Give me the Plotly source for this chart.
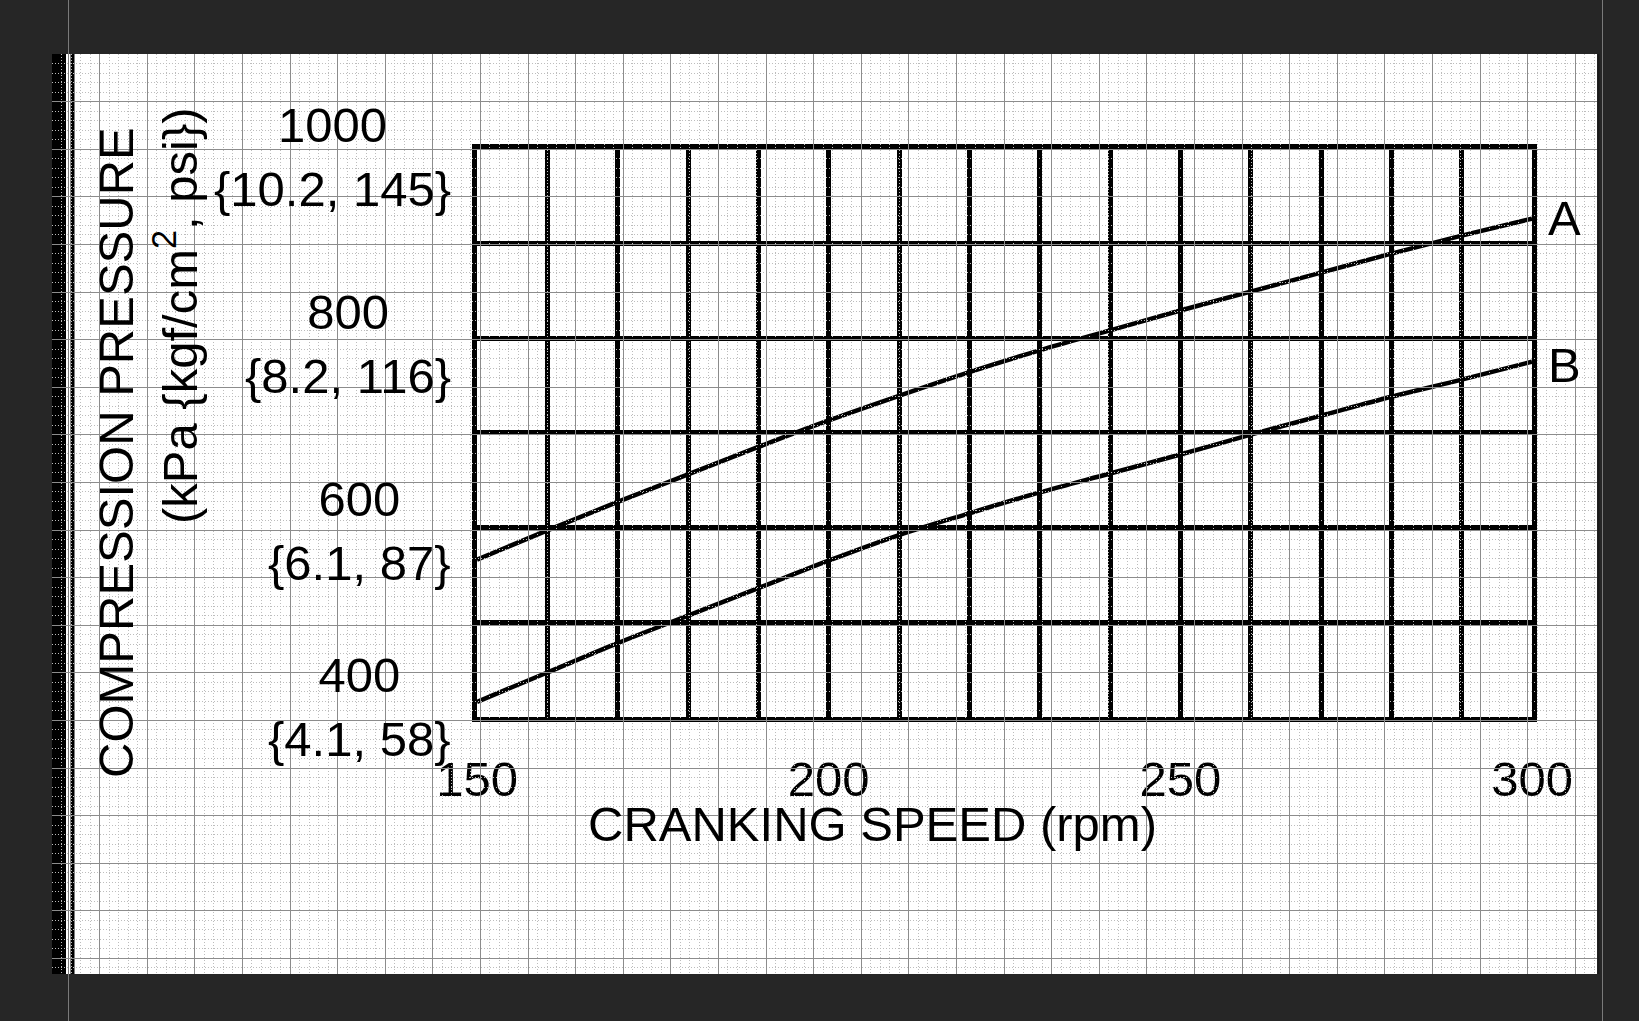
import plotly.graph_objects as go

# ---- data ----
rpm = [150, 160, 170, 180, 190, 200, 210, 220, 230, 240, 250, 260, 270, 280, 290, 300]
pressure_a = [566, 597, 627, 656, 685, 713, 739, 764, 787, 808, 829, 849, 869, 889, 908, 926]
pressure_b = [416, 447, 478, 507, 536, 565, 592, 615, 637, 657, 677, 698, 718, 738, 756, 775]
curve_names = ["A", "B"]
x_tick_vals = [150, 200, 250, 300]
y_tick_vals = [400, 600, 800, 1000]
y_tick_sub = ["{4.1, 58}", "{6.1, 87}", "{8.2, 116}", "{10.2, 145}"]
x_title = "CRANKING SPEED (rpm)"
y_title = "COMPRESSION PRESSURE"
y_units = "(kPa {kgf/cm<sup>2</sup>, psi})"

# ---- layout helpers (pixel -> paper) ----
W, H = 1639, 1021
def px(x):
    return x / W
def py(y):
    return 1 - y / H

FONT = "Liberation Sans, Arial, Helvetica, sans-serif"
FS = 49
INK = "#000000"
GRID_W = 5

fig = go.Figure()

for name, vals in zip(curve_names, [pressure_a, pressure_b]):
    fig.add_trace(go.Scatter(x=rpm, y=vals, mode="lines", name=name,
                             line=dict(color=INK, width=4.5, shape="spline"),
                             hoverinfo="skip", showlegend=False,
                             xaxis="x", yaxis="y"))

# empty trace for the editor-grid overlay subplot
fig.add_trace(go.Scatter(x=[], y=[], xaxis="x2", yaxis="y2",
                         showlegend=False, hoverinfo="skip"))

annotations = []
# y tick labels (two lines, centred)
yshift = {400: 10, 600: -3, 800: -6, 1000: -8}
for v, sub in zip(y_tick_vals, y_tick_sub):
    annotations.append(dict(text=f"{v}<br>{sub}", xref="paper", x=px(453),
                            yref="y", y=v, xanchor="right", yanchor="middle",
                            align="center", showarrow=False, yshift=yshift[v],
                            font=dict(family=FONT, size=FS, color=INK)))
# curve labels
label_shift = {"A": 1, "B": -3}
for name, vals in zip(curve_names, [pressure_a, pressure_b]):
    annotations.append(dict(text=name, xref="x", x=rpm[-1], yref="y", y=vals[-1],
                            xanchor="left", yanchor="middle", xshift=14, yshift=label_shift[name],
                            showarrow=False,
                            font=dict(family=FONT, size=FS, color=INK)))
# axis titles
annotations.append(dict(text=x_title, xref="paper", x=px(872), yref="paper", y=py(824),
                        xanchor="center", yanchor="middle", showarrow=False,
                        font=dict(family=FONT, size=FS, color=INK)))
annotations.append(dict(text=y_title, xref="paper", x=px(116), yref="paper", y=py(453),
                        xanchor="center", yanchor="middle", textangle=-90, showarrow=False,
                        font=dict(family=FONT, size=FS, color=INK)))
annotations.append(dict(text=y_units, xref="paper", x=px(176), yref="paper", y=py(316),
                        xanchor="center", yanchor="middle", textangle=-90, showarrow=False,
                        font=dict(family=FONT, size=FS, color=INK)))

shapes = [
    # white image canvas
    dict(type="rect", xref="paper", yref="paper", x0=px(52), x1=px(1597), y0=py(974), y1=py(54),
         fillcolor="#ffffff", line=dict(width=0), layer="below"),
    # black strip at the left edge of the image
    dict(type="rect", xref="paper", yref="paper", x0=px(52), x1=px(66), y0=py(974), y1=py(54),
         fillcolor="#000000", line=dict(width=0), layer="below"),
    # thick black border line
    dict(type="line", xref="paper", yref="paper", x0=px(72.5), x1=px(72.5), y0=py(974), y1=py(54),
         line=dict(color="#000000", width=4), layer="below"),
    # right thin dark edge
    dict(type="line", xref="paper", yref="paper", x0=px(1598.5), x1=px(1598.5), y0=py(974), y1=py(54),
         line=dict(color="#1a1a1a", width=2), layer="below"),
    # editor guide lines
    dict(type="line", xref="paper", yref="paper", x0=px(68.5), x1=px(68.5), y0=0, y1=1,
         line=dict(color="#7a7a7a", width=1), layer="below"),
    dict(type="line", xref="paper", yref="paper", x0=px(1602.5), x1=px(1602.5), y0=0, y1=1,
         line=dict(color="#7a7a7a", width=1), layer="below"),
]

fig.update_layout(
    template="none",
    width=W, height=H, autosize=False,
    margin=dict(l=0, r=0, t=0, b=0, pad=0),
    paper_bgcolor="#262626", plot_bgcolor="rgba(0,0,0,0)",
    showlegend=False,
    xaxis=dict(domain=[px(477), px(1532)], range=[150, 300], anchor="y", automargin=False,
               tickmode="array", tickvals=x_tick_vals, ticktext=[str(v) for v in x_tick_vals],
               ticks="", ticklabelstandoff=15,
               tickfont=dict(family=FONT, size=FS, color=INK),
               showgrid=True, gridcolor=INK, gridwidth=GRID_W,
               minor=dict(dtick=10, tick0=150, showgrid=True, gridcolor=INK, gridwidth=GRID_W),
               showline=True, linecolor=INK, linewidth=GRID_W, mirror=True, zeroline=False,
               fixedrange=True),
    yaxis=dict(domain=[py(717), py(148.5)], range=[400, 1000], anchor="x", automargin=False,
               tick0=400, dtick=100, showticklabels=False, ticks="",
               showgrid=True, gridcolor=INK, gridwidth=GRID_W,
               showline=True, linecolor=INK, linewidth=GRID_W, mirror=True, zeroline=False,
               fixedrange=True),
    xaxis2=dict(domain=[px(52), px(1597)], range=[0, 1545], anchor="y2", automargin=False,
                tick0=0, dtick=47.6, showticklabels=False, ticks="",
                showgrid=True, gridcolor="#8c8c8c", gridwidth=1,
                minor=dict(dtick=9.52, tick0=0, showgrid=True, gridcolor="#bdbdbd",
                           gridwidth=1, griddash="1px,2px"),
                zeroline=False, showline=False, fixedrange=True),
    yaxis2=dict(domain=[py(974), py(54)], range=[920, 0], anchor="x2", automargin=False,
                tick0=0, dtick=47.6, showticklabels=False, ticks="",
                showgrid=True, gridcolor="#8c8c8c", gridwidth=1,
                minor=dict(dtick=9.52, tick0=0, showgrid=True, gridcolor="#bdbdbd",
                           gridwidth=1, griddash="1px,2px"),
                zeroline=False, showline=False, fixedrange=True),
    annotations=annotations,
    shapes=shapes,
)

fig.write_html("out.html", config={"displayModeBar": False},
               post_script="document.body.style.margin='0';document.body.style.overflow='hidden';")
